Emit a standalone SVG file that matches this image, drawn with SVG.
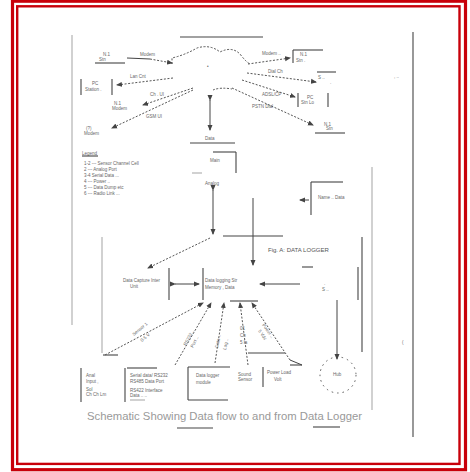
<svg xmlns="http://www.w3.org/2000/svg" width="470" height="472" viewBox="0 0 470 472">
<style>
.t{font-family:"Liberation Sans",Arial,sans-serif;fill:#666;font-size:4.5px}
.tb{font-family:"Liberation Sans",Arial,sans-serif;fill:#555;font-size:6px}
.cap{font-family:"Liberation Sans",Arial,sans-serif;fill:#999;font-size:10.5px}
.ln{stroke:#444;stroke-width:1.1;fill:none}
.lg{stroke:#999;stroke-width:0.9;fill:none}
.ds{stroke:#555;stroke-width:1;fill:none;stroke-dasharray:2 1.6}
.sd{stroke:#444;stroke-width:1;fill:none}
</style>
<defs>
<marker id="ah" markerWidth="6" markerHeight="6" refX="5" refY="3" orient="auto" markerUnits="userSpaceOnUse">
<path d="M0,0.5 L6,3 L0,5.5 z" fill="#444"/>
</marker>
</defs>
<rect x="0" y="0" width="470" height="472" fill="#fff"/>
<rect x="12.5" y="1.2" width="453" height="468.5" fill="none" stroke="#c8000a" stroke-width="3.2"/>
<rect x="17.2" y="6.3" width="442.3" height="457.6" fill="none" stroke="#c8000a" stroke-width="2.4"/>

<g id="page-frame">
<line class="lg" x1="72" y1="35" x2="72" y2="325"/>
<line class="ln" x1="413" y1="32" x2="413" y2="437" stroke="#666"/>
<line class="lg" x1="372" y1="167" x2="372" y2="410"/>
<line class="ln" x1="180" y1="37" x2="263" y2="37"/>
<line class="ln" x1="177" y1="428" x2="213" y2="428"/>
<line class="ln" x1="313" y1="427" x2="340" y2="427"/>
<text class="t" x="394" y="78" fill="#bbb">, ..</text>
<text class="t" x="402" y="344" fill="#bbb">(</text>
</g>

<g id="cloud">
<path class="ds" d="M172,64 L172,58 Q185,55 197,48 Q210,44 220,52 Q232,46 240,54 Q246,62 250,64" stroke-dasharray="1.4 2"/>
<path class="ds" d="M213,90 Q220,87 232,89" stroke-dasharray="1.4 2"/>
<text class="t" x="207" y="68">•</text>
</g>

<g id="n-top-left">
<text class="t" x="103" y="56">N.1</text>
<text class="t" x="99" y="61">Stn</text>
<line class="ln" x1="95" y1="63" x2="125" y2="63"/>
</g>
<g id="n-left-box">
<line class="ln" x1="81" y1="79" x2="81" y2="95"/>
<line class="ln" x1="112" y1="79" x2="112" y2="95"/>
<text class="t" x="92" y="85">PC</text>
<text class="t" x="85" y="91">Station .</text>
</g>
<g id="n-left-2">
<text class="t" x="114" y="105">N.1</text>
<text class="t" x="112" y="110">Modem</text>
</g>
<g id="n-left-3">
<text class="t" x="86" y="130">(?)</text>
<text class="t" x="84" y="135">Modem</text>
</g>
<g id="n-right-1">
<line class="ln" x1="293" y1="50" x2="323" y2="50"/>
<line class="ln" x1="293" y1="50" x2="293" y2="63"/>
<text class="t" x="300" y="56">N.1</text>
<text class="t" x="296" y="62">Stn .</text>
</g>
<g id="n-right-2">
<line class="ln" x1="317" y1="72" x2="336" y2="72"/>
<text class="t" x="318" y="79">S ..</text>
<text class="t" x="330" y="84">.</text>
</g>
<g id="n-right-3">
<line class="ln" x1="298" y1="93" x2="298" y2="107"/>
<line class="ln" x1="328" y1="93" x2="328" y2="107"/>
<text class="t" x="307" y="99">PC</text>
<text class="t" x="301" y="104">Stn  Lo</text>
</g>
<g id="n-right-4">
<text class="t" x="324" y="126">N.1</text>
<text class="t" x="326" y="130">Stn</text>
<line class="ln" x1="315" y1="133" x2="345" y2="133"/>
</g>

<g id="n-data">
<text class="t" x="205" y="140">Data</text>
<line class="ln" x1="190" y1="143" x2="235" y2="143"/>
</g>
<g id="n-main">
<line class="ln" x1="213" y1="152" x2="236" y2="152"/>
<line class="ln" x1="236" y1="152" x2="236" y2="173"/>
<line class="lg" x1="192" y1="173" x2="202" y2="173"/>
<text class="t" x="210" y="162">Main</text>
</g>
<g id="n-analog">
<text class="t" x="205" y="185">Analog</text>
</g>

<g id="legend">
<text class="t" x="82" y="155">Legend</text>
<line class="ln" x1="82" y1="156" x2="98" y2="156"/>
<text class="t" x="84" y="165">1-2  ---  Sensor Channel  Cell</text>
<text class="t" x="84" y="171">2  ---  Analog Port</text>
<text class="t" x="84" y="177">3-4  Serial  Data  ...</text>
<text class="t" x="84" y="183">4  ---  Power  ..</text>
<text class="t" x="84" y="189">5  ---  Data  Dump  etc</text>
<text class="t" x="84" y="195">6  ---  Radio  Link  ...</text>
</g>

<g id="n-name-data">
<line class="ln" x1="311" y1="182" x2="343" y2="182"/>
<line class="ln" x1="311" y1="182" x2="311" y2="215"/>
<text class="t" x="318" y="199">Name  ..  Data</text>
</g>

<g id="n-logger-frame">
<line class="ln" x1="223" y1="236" x2="283" y2="236"/>
<line class="lg" x1="102" y1="237" x2="102" y2="353"/>
<line class="ln" x1="362" y1="237" x2="362" y2="352"/>
<line class="ln" x1="358" y1="267" x2="358" y2="300"/>
<line class="ln" x1="302" y1="267" x2="313" y2="267"/>
<text class="tb" x="268" y="252">Fig. A: DATA LOGGER</text>
</g>

<g id="n-capture">
<text class="t" x="123" y="282">Data Capture Inter</text>
<text class="t" x="130" y="288">Unit</text>
<line class="ln" x1="169" y1="268" x2="169" y2="300"/>
</g>
<g id="n-logger">
<line class="ln" x1="203" y1="268" x2="203" y2="300"/>
<text class="t" x="205" y="282">Data logging    Str</text>
<text class="t" x="205" y="289">Memory , Data</text>
<line class="ln" x1="230" y1="301" x2="258" y2="301"/>
</g>
<g id="n-s">
<text class="t" x="324" y="285">.</text>
<text class="t" x="322" y="291">S ..</text>
</g>

<g id="n-b1">
<line class="ln" x1="81" y1="368" x2="81" y2="402"/>
<line class="ln" x1="103" y1="355" x2="118" y2="355"/>
<text class="t" x="86" y="377">Anal</text>
<text class="t" x="86" y="383">Input  ,</text>
<text class="t" x="86" y="391">Sol</text>
<text class="t" x="86" y="396">Ch  Ch  Lm</text>
</g>
<g id="n-b2">
<line class="ln" x1="125" y1="368" x2="125" y2="402"/>
<line class="ln" x1="127" y1="368" x2="157" y2="368"/>
<text class="t" x="130" y="377">Serial data/ RS232</text>
<text class="t" x="130" y="383">RS485 Data  Port</text>
<text class="t" x="130" y="392">RS422 Interface</text>
<text class="t" x="130" y="397">Data  ..  ..</text>
<line class="lg" x1="130" y1="400" x2="145" y2="400"/>
</g>
<g id="n-b3">
<line class="ln" x1="188" y1="367" x2="230" y2="367"/>
<line class="ln" x1="188" y1="367" x2="188" y2="400"/>
<line class="ln" x1="188" y1="400" x2="228" y2="400"/>
<text class="t" x="196" y="377">Data logger</text>
<text class="t" x="196" y="384">module</text>
</g>
<g id="n-b4">
<text class="t" x="238" y="376">Sound</text>
<text class="t" x="238" y="381">Sensor</text>
<line class="ln" x1="263" y1="367" x2="263" y2="387"/>
</g>
<g id="n-b5">
<line class="ln" x1="290" y1="365" x2="302" y2="365"/>
<text class="t" x="267" y="374">Power  Load</text>
<text class="t" x="274" y="381">Volt</text>
</g>
<g id="n-circle">
<circle cx="338" cy="375" r="18" fill="none" stroke="#555" stroke-width="1" stroke-dasharray="1.5 4"/>
<text class="t" x="333" y="376">Hub</text>
</g>

<g id="caption">
<text class="cap" x="87" y="420" textLength="275" lengthAdjust="spacingAndGlyphs">Schematic Showing Data flow to and from Data Logger</text>
</g>

<g id="connectors">
<path class="sd" d="M127,58 L150,59"/>
<path class="ds" d="M150,59 L172,63" marker-end="url(#ah)"/>
<text class="t" x="140" y="56">Modem</text>
<path class="ds" d="M173,78 L117,85" marker-end="url(#ah)"/>
<text class="t" x="130" y="78">Lan Cnt</text>
<path class="ds" d="M193,88 L143,105" marker-end="url(#ah)"/>
<text class="t" x="150" y="96">Ch . UI</text>
<path class="ds" d="M193,90 L112,128" marker-end="url(#ah)"/>
<text class="t" x="146" y="118">GSM  UI</text>
<path class="ds" d="M248,64 L290,58" marker-end="url(#ah)"/>
<text class="t" x="262" y="55">Modem  ..</text>
<path class="ds" d="M247,73 L316,82" marker-end="url(#ah)"/>
<text class="t" x="268" y="73">Dial Ch</text>
<path class="ds" d="M242,80 L295,97" marker-end="url(#ah)"/>
<text class="t" x="262" y="96">ADSL/CP</text>
<path class="ds" d="M232,88 L313,125" marker-end="url(#ah)"/>
<text class="t" x="252" y="108">PSTN  Dial</text>
<path class="sd" d="M210,100 L210,130" marker-start="url(#ah)" marker-end="url(#ah)"/>
<path class="sd" d="M213,190 L213,234" marker-start="url(#ah)" marker-end="url(#ah)"/>
<path class="sd" d="M253,198 L253,265" marker-end="url(#ah)"/>
<path class="sd" d="M309,200 L300,200" marker-end="url(#ah)"/>
<path class="ds" d="M210,238 L148,268" marker-end="url(#ah)"/>
<path class="sd" d="M175,284 L199,284" marker-start="url(#ah)" marker-end="url(#ah)"/>
<path class="sd" d="M300,284 L260,284" marker-end="url(#ah)"/>
<path class="sd" d="M337,300 L337,359" stroke="#888" marker-end="url(#ah)"/>
<path class="ds" d="M105,355 L203,303" marker-end="url(#ah)"/>
<text class="t" transform="translate(134,336) rotate(-40)">Sensor 1</text>
<text class="t" transform="translate(142,342) rotate(-40)">0-5 V</text>
<path class="ds" d="M175,365 L211,303" marker-end="url(#ah)"/>
<text class="t" transform="translate(186,346) rotate(-62)">RS232 ..</text>
<text class="t" transform="translate(193,348) rotate(-62)">Port ..</text>
<path class="ds" d="M215,363 L224,303" marker-end="url(#ah)"/>
<text class="t" transform="translate(218,348) rotate(-78)">Data ..</text>
<text class="t" transform="translate(226,350) rotate(-78)">Log ..</text>
<path class="ds" d="M248,365 L240,303" marker-end="url(#ah)"/>
<text class="t" x="240" y="330">01</text>
<text class="t" x="240" y="337">Ch</text>
<text class="t" x="240" y="344">5 la</text>
<path class="ds" d="M290,360 L252,303" marker-end="url(#ah)"/>
<path class="sd" d="M290,360 L302,365"/>
<line class="ln" x1="248" y1="353" x2="285" y2="353"/>
<text class="t" transform="translate(262,325) rotate(55)">Power ..</text>
<text class="t" transform="translate(258,331) rotate(55)">5 Vdc</text>
</g>
</svg>
